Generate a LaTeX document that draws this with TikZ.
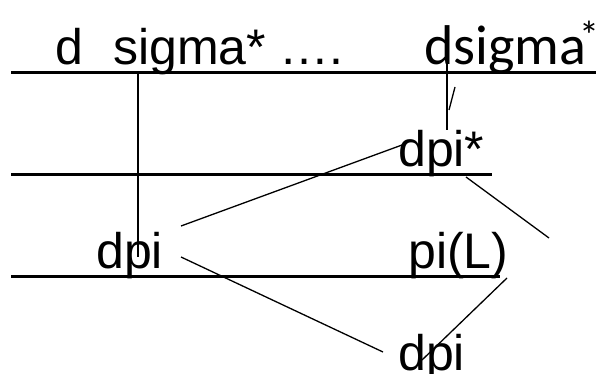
\documentclass[tikz,border=0pt]{standalone}
\usepackage{fontspec}
\setmainfont{Liberation Sans}
\newfontfamily\calfont{Carlito}
\begin{document}
\begin{tikzpicture}[x=1pt,y=-1pt,
  txt/.style={inner sep=0pt, anchor=base west, font=\fontsize{50}{60}\selectfont},
  caltxt/.style={inner sep=0pt, anchor=base west, font=\calfont\fontsize{56}{67}\selectfont},
  suptxt/.style={inner sep=0pt, anchor=base, font=\calfont\fontsize{40}{48}\selectfont},
  rule/.style={line width=3pt},
  conn/.style={line width=1.3pt}]
\useasboundingbox (0,0) rectangle (596,374);
% texts
\node[txt] (d) at (55,65) {d};
\node[txt] (sigma) at (113,65) {sigma* ….};
\node[caltxt] (dsigma) at (424,65) {dsigma};
\node[suptxt] (star) at (589,50) {*};
\node[txt] (dpistar) at (398,167) {dpi*};
\node[txt] (dpiL) at (96,268) {dpi};
\node[txt] (piL) at (408,268) {pi(L)};
\node[txt] (dpiB) at (398,370) {dpi};
% horizontal rules
\coordinate (t1) at (11,72.5); \coordinate (t2) at (596,72.5);
\coordinate (m1) at (11,174);  \coordinate (m2) at (492,174);
\coordinate (b1) at (11,276);  \coordinate (b2) at (500,276);
\draw[rule] (t1) -- (t2);
\draw[rule] (m1) -- (m2);
\draw[rule] (b1) -- (b2);
% connectors
\coordinate (v1a) at (138,72.5); \coordinate (v1b) at (138,257);
\coordinate (v2a) at (447,63);   \coordinate (v2b) at (447,130);
\coordinate (ka) at (455,87);    \coordinate (kb) at (449,110);
\coordinate (l1a) at (181,226);  \coordinate (l1b) at (402,145);
\coordinate (l2a) at (466,177);  \coordinate (l2b) at (549,238);
\coordinate (l3a) at (181,257);  \coordinate (l3b) at (383,352);
\coordinate (l4a) at (507,278);  \coordinate (l4b) at (422,360);
\draw[conn] (v1a) -- (v1b);
\draw[conn] (v2a) -- (v2b);
\draw[conn] (ka) -- (kb);
\draw[conn] (l1a) -- (l1b);
\draw[conn] (l2a) -- (l2b);
\draw[conn] (l3a) -- (l3b);
\draw[conn] (l4a) -- (l4b);
\end{tikzpicture}
\end{document}
